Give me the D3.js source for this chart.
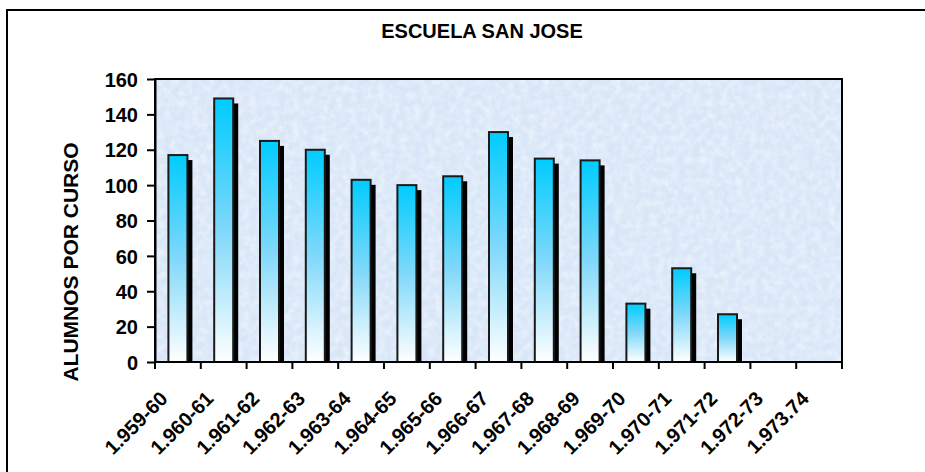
<!DOCTYPE html>
<html>
<head>
<meta charset="utf-8">
<script src="https://cdn.jsdelivr.net/npm/d3@7"></script>
<style>
  html, body { margin: 0; padding: 0; background: #fff; }
  svg { display: block; }
  text { font-family: "Liberation Sans", Arial, sans-serif; font-weight: bold; fill: #000; }
</style>
</head>
<body>
<svg id="chart" width="925" height="472"></svg>
<script>
const title = "ESCUELA SAN JOSE";
const yAxisTitle = "ALUMNOS POR CURSO";
const categories = ["1.959-60","1.960-61","1.961-62","1.962-63","1.963-64","1.964-65","1.965-66","1.966-67","1.967-68","1.968-69","1.969-70","1.970-71","1.971-72","1.972-73","1.973.74"];
const alumnos = [117,149,125,120,103,100,105,130,115,114,33,53,27,null,null];
const yTicks = [0,20,40,60,80,100,120,140,160];

const svg = d3.select("#chart");
const W = 925, H = 472;
const plot = {left: 155, top: 79, right: 842, bottom: 362};

const defs = svg.append("defs");
const grad = defs.append("linearGradient").attr("id","barGrad")
  .attr("x1",0).attr("y1",0).attr("x2",0).attr("y2",1);
grad.append("stop").attr("offset","0%").attr("stop-color","#00ccff");
grad.append("stop").attr("offset","50%").attr("stop-color","#80d8fa");
grad.append("stop").attr("offset","100%").attr("stop-color","#ffffff");

const filt = defs.append("filter").attr("id","tex")
  .attr("x",0).attr("y",0).attr("width","100%").attr("height","100%");
filt.append("feTurbulence").attr("type","fractalNoise").attr("baseFrequency","0.14")
  .attr("numOctaves",3).attr("seed",4).attr("result","n");
filt.append("feColorMatrix").attr("in","n").attr("type","matrix")
  .attr("values","0 0 0 0 1  0 0 0 0 1  0 0 0 0 1  1.5 0 0 0 -0.5");

defs.append("clipPath").attr("id","plotClip").append("rect")
  .attr("x",plot.left).attr("y",plot.top)
  .attr("width",plot.right-plot.left).attr("height",plot.bottom-plot.top);

// outer chart border
svg.append("rect").attr("x",7).attr("y",10).attr("width",W+20).attr("height",H+20)
  .attr("fill","#fff").attr("stroke","#000").attr("stroke-width",2);

// plot background
svg.append("rect").attr("x",plot.left).attr("y",plot.top)
  .attr("width",plot.right-plot.left).attr("height",plot.bottom-plot.top)
  .attr("fill","#d8e6f8");
svg.append("rect").attr("x",plot.left).attr("y",plot.top)
  .attr("width",plot.right-plot.left).attr("height",plot.bottom-plot.top)
  .attr("fill","#fff").attr("filter","url(#tex)").attr("opacity",0.6);

const x = d3.scaleBand().domain(categories).range([plot.left, plot.right]).paddingInner(0).paddingOuter(0);
const y = d3.scaleLinear().domain([0,160]).range([plot.bottom, plot.top]);

const barW = 19;
const data = categories.map((c,i)=>({c, v: alumnos[i]})).filter(d=>d.v!=null);

const g = svg.append("g").attr("clip-path","url(#plotClip)");
// shadows
g.selectAll("rect.sh").data(data).join("rect").attr("class","sh")
  .attr("x", d => x(d.c) + x.bandwidth()/2 - barW/2 + 5)
  .attr("y", d => y(d.v) + 5)
  .attr("width", barW)
  .attr("height", d => y(0) - y(d.v) + 10)
  .attr("fill","#000");
// bars
g.selectAll("rect.bar").data(data).join("rect").attr("class","bar")
  .attr("x", d => x(d.c) + x.bandwidth()/2 - barW/2)
  .attr("y", d => y(d.v))
  .attr("width", barW)
  .attr("height", d => y(0) - y(d.v))
  .attr("fill","url(#barGrad)").attr("stroke","#1a1a1a").attr("stroke-width",2);

// plot frame
svg.append("rect").attr("x",plot.left).attr("y",plot.top)
  .attr("width",plot.right-plot.left).attr("height",plot.bottom-plot.top)
  .attr("fill","none").attr("stroke","#000").attr("stroke-width",2);

// y axis
const yAxis = svg.append("g").attr("transform",`translate(${plot.left},0)`)
  .call(d3.axisLeft(y).tickValues(yTicks).tickSize(8).tickPadding(9).tickSizeOuter(0));
yAxis.select(".domain").attr("stroke","#000").attr("stroke-width",2);
yAxis.selectAll(".tick line").attr("stroke","#000").attr("stroke-width",2);
yAxis.selectAll(".tick text").style("font-size","20px").style("font-family","Liberation Sans, Arial, sans-serif")
  .style("font-weight","bold").attr("fill","#000").attr("dy","0.36em");

// x axis ticks at band boundaries
const xAxis = svg.append("g").attr("transform",`translate(0,${plot.bottom})`);
const bounds = categories.map(c => x(c)).concat([x(categories[categories.length-1]) + x.bandwidth()]);
xAxis.selectAll("line").data(bounds).join("line")
  .attr("x1", d=>d).attr("x2", d=>d).attr("y1",0).attr("y2",7)
  .attr("stroke","#000").attr("stroke-width",2);
xAxis.append("line").attr("x1",plot.left-1).attr("x2",plot.right+1).attr("y1",0).attr("y2",0)
  .attr("stroke","#000").attr("stroke-width",2);
xAxis.selectAll("text").data(categories).join("text")
  .attr("transform", d => `translate(${x(d)+x.bandwidth()/2-9},${38}) rotate(-45)`)
  .attr("text-anchor","end")
  .style("font-size","20px")
  .text(d=>d);

// title
svg.append("text").attr("x",482).attr("y",38).attr("text-anchor","middle")
  .style("font-size","20px").text(title);

// y axis title
svg.append("text").attr("transform","translate(78,262) rotate(-90)").attr("text-anchor","middle")
  .style("font-size","21px").text(yAxisTitle);
</script>
</body>
</html>
